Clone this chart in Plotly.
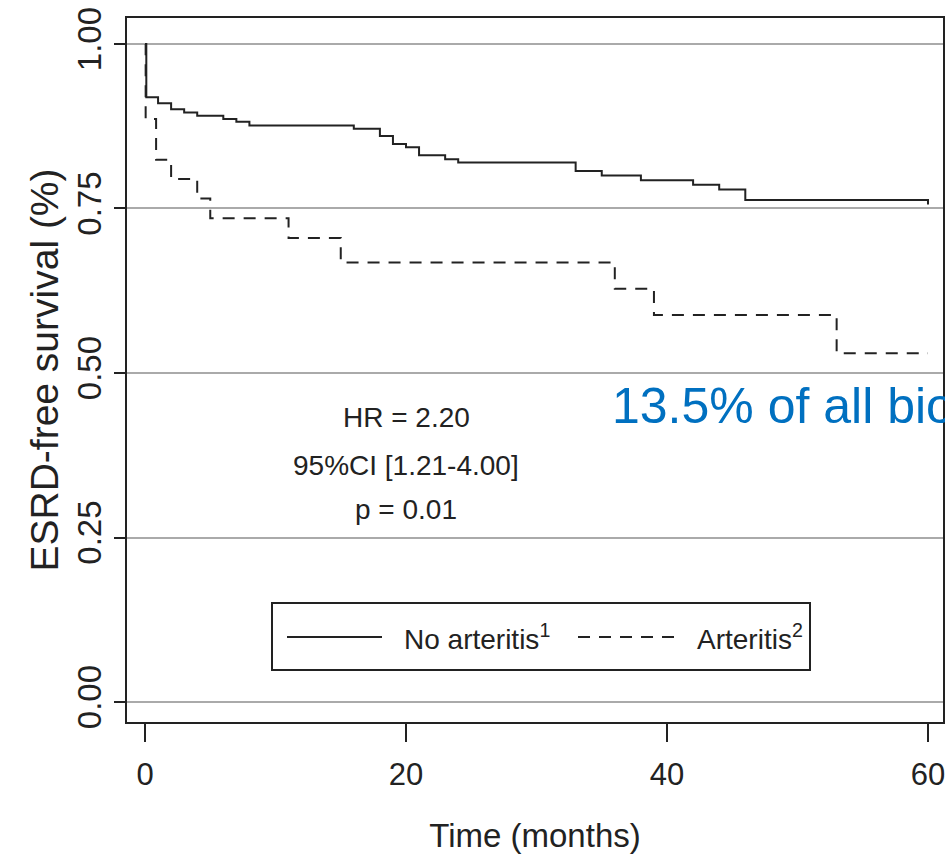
import plotly.graph_objects as go

# Kaplan-Meier estimates
time_no_arteritis = [0, 0.1, 1, 2, 3, 4, 6, 7, 8, 16, 18, 19, 20, 21, 23, 24, 33, 35, 38, 42, 44, 46, 60, 60]
surv_no_arteritis = [1.0, 0.919, 0.910, 0.901, 0.896, 0.891, 0.886, 0.882, 0.876, 0.871, 0.860, 0.848, 0.843,
                     0.831, 0.825, 0.820, 0.807, 0.800, 0.793, 0.786, 0.779, 0.763, 0.763, 0.756]

time_arteritis = [0, 0.05, 0.85, 2, 4, 5, 11, 15, 36, 39, 53, 60]
surv_arteritis = [1.0, 0.886, 0.824, 0.795, 0.765, 0.735, 0.705, 0.668, 0.628, 0.588, 0.530, 0.530]

series_names = ["No arteritis<sup>1</sup>", "Arteritis<sup>2</sup>"]

x_ticks = [0, 20, 40, 60]
y_ticks = [0.0, 0.25, 0.50, 0.75, 1.0]
y_tick_labels = ["0.00", "0.25", "0.50", "0.75", "1.00"]

stats_lines = ["HR = 2.20", "95%CI [1.21-4.00]", "p = 0.01"]
stats_y = [0.432, 0.360, 0.292]
overlay_text = "13.5% of all bio"

FONT = "Liberation Sans, Arial, Helvetica, sans-serif"
INK = "#222222"
DASH = "12px,9px"

W, H = 945, 859
ML, MR, MT, MB = 127, 2, 18, 137
PW, PH = W - ML - MR, H - MT - MB


def px(xp):
    return (xp - ML) / PW


def py(yp):
    return (H - MB - yp) / PH


fig = go.Figure()
fig.add_trace(go.Scatter(x=time_no_arteritis, y=surv_no_arteritis, mode="lines",
                         line=dict(shape="hv", color=INK, width=2), name=series_names[0]))
fig.add_trace(go.Scatter(x=time_arteritis, y=surv_arteritis, mode="lines",
                         line=dict(shape="hv", color=INK, width=2, dash=DASH), name=series_names[1]))

for txt, yy in zip(stats_lines, stats_y):
    fig.add_annotation(x=20, y=yy, xref="x", yref="y", text=txt, showarrow=False,
                       font=dict(family=FONT, size=28, color=INK), xanchor="center", yanchor="middle")

fig.add_annotation(x=35.6, y=0.45, xref="x", yref="y", text=overlay_text, showarrow=False,
                   font=dict(family=FONT, size=50, color="#0070C0"), xanchor="left", yanchor="middle")

# legend box drawn by hand (R-style legend)
fig.add_shape(type="rect", xref="paper", yref="paper", x0=px(272), x1=px(810), y0=py(670), y1=py(603),
              line=dict(color=INK, width=2), fillcolor="white", layer="above")
fig.add_shape(type="line", xref="paper", yref="paper", x0=px(287), x1=px(382), y0=py(637), y1=py(637),
              line=dict(color=INK, width=2), layer="above")
fig.add_shape(type="line", xref="paper", yref="paper", x0=px(578), x1=px(682), y0=py(637), y1=py(637),
              line=dict(color=INK, width=2, dash=DASH), layer="above")
fig.add_annotation(x=px(402), y=py(637), xref="paper", yref="paper", text=series_names[0], showarrow=False,
                   font=dict(family=FONT, size=28, color=INK), xanchor="left", yanchor="middle")
fig.add_annotation(x=px(695), y=py(637), xref="paper", yref="paper", text=series_names[1], showarrow=False,
                   font=dict(family=FONT, size=28, color=INK), xanchor="left", yanchor="middle")

fig.update_layout(
    width=W, height=H,
    margin=dict(l=ML, r=MR, t=MT, b=MB, autoexpand=False),
    paper_bgcolor="white", plot_bgcolor="white",
    showlegend=False,
    xaxis=dict(range=[-1.38, 61.15], tickvals=x_ticks, ticks="outside", ticklen=18, tickwidth=2,
               tickcolor=INK, showgrid=False, zeroline=False, showline=True, linecolor=INK,
               linewidth=2, mirror=True, automargin=False, ticklabeloverflow="allow",
               tickfont=dict(family=FONT, size=31, color=INK), ticklabelstandoff=6,
               title=dict(text="Time (months)", font=dict(family=FONT, size=33, color=INK), standoff=33)),
    yaxis=dict(range=[-0.0304, 1.0395], tickvals=y_ticks, ticktext=y_tick_labels, ticks="outside",
               ticklen=11, tickwidth=2, tickcolor=INK, tickangle=-90, automargin=False,
               showgrid=True, gridcolor="#aaaaaa", gridwidth=2, zeroline=False,
               showline=True, linecolor=INK, linewidth=2, mirror=True,
               tickfont=dict(family=FONT, size=33, color=INK), ticklabelstandoff=0,
               title=dict(text="ESRD-free survival (%)", font=dict(family=FONT, size=39, color=INK), standoff=0)),
)

fig.write_html("out.html", config={"displayModeBar": False},
               post_script="document.body.style.margin='0';document.body.style.overflow='hidden';")
